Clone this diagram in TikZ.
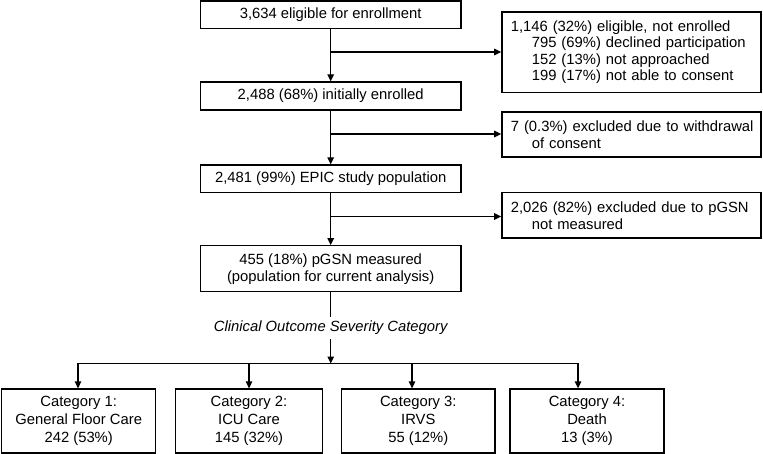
\documentclass[tikz,border=0pt]{standalone}
\usepackage{fontspec}
\setmainfont{Liberation Sans}
\usetikzlibrary{arrows.meta}
\newcommand\diagfont{\fontsize{14.8}{17}\selectfont}
\newcommand\sideindent{\hspace*{21pt}}
\begin{document}
\begin{tikzpicture}[x=1pt,y=-1pt,line width=1.3pt,
  mainbox/.style={draw, minimum width=260.5pt, inner sep=0pt, align=center, font=\diagfont},
  sidebox/.style={draw, text width=241pt, inner xsep=9pt, inner ysep=0pt, align=left, font=\diagfont},
  catbox/.style={draw, minimum height=64pt, inner sep=0pt, align=center, font=\fontsize{14.8}{17.8}\selectfont},
  arr/.style={-{Triangle[length=7pt,width=6.5pt]}}]
\useasboundingbox (0,0) rectangle (763,454);
% main column
\node[mainbox, minimum height=27.5pt] (n1) at (330.7,14.75) {3,634 eligible for enrollment};
\node[mainbox, minimum height=28pt] (n2) at (330.7,96) {2,488 (68\%) initially enrolled};
\node[mainbox, minimum height=27.5pt] (n3) at (330.7,178.75) {2,481 (99\%) EPIC study population};
\node[mainbox, minimum height=46pt] (n4) at (330.7,268.7) {455 (18\%) pGSN measured\\(population for current analysis)};
% side boxes
\node[sidebox, minimum height=80.5pt, font=\fontsize{14.8}{16.4}\selectfont] (r1) at (631.35,52.25)
  {\mbox{1,146 (32\%) eligible, not enrolled}\\\mbox{\sideindent 795 (69\%) declined participation}\\\mbox{\sideindent 152 (13\%) not approached}\\\mbox{\sideindent 199 (17\%) not able to consent}};
\node[sidebox, minimum height=45pt] (r2) at (631.35,134.5)
  {\mbox{7 (0.3\%) excluded due to withdrawal}\\\mbox{\sideindent of consent}};
\node[sidebox, minimum height=45.5pt] (r3) at (631.35,215.25)
  {\mbox{2,026 (82\%) excluded due to pGSN}\\\mbox{\sideindent not measured}};
% label
\node[font=\diagfont\itshape, inner sep=0pt] (lab) at (330.7,328) {Clinical Outcome Severity Category};
% categories
\node[catbox, minimum width=154pt] (c1) at (78.7,421) {Category 1:\\General Floor Care\\242 (53\%)};
\node[catbox, minimum width=146.6pt] (c2) at (249,421) {Category 2:\\ICU Care\\145 (32\%)};
\node[catbox, minimum width=153.3pt] (c3) at (418.3,421) {Category 3:\\IRVS\\55 (12\%)};
\node[catbox, minimum width=154pt] (c4) at (587,421) {Category 4:\\Death\\13 (3\%)};
% connectors
\coordinate (b1) at (330.7,52);
\coordinate (b2) at (330.7,134);
\coordinate (b3) at (330.7,216.5);
\draw[arr] (n1) -- (n2);
\draw[arr] (n2) -- (n3);
\draw[arr] (n3) -- (n4);
\draw[arr] (b1) -- (b1 -| r1.west);
\draw[arr] (b2) -- (b2 -| r2.west);
\draw[arr] (b3) -- (b3 -| r3.west);
\coordinate (s1) at (330.7,316.7);
\coordinate (s2) at (330.7,339);
\coordinate (hub) at (330.7,363.5);
\draw (n4) -- (s1);
\draw[arr] (s2) -- (hub);
\coordinate (h1) at (78,363.5);
\coordinate (h2) at (249,363.5);
\coordinate (h3) at (412,363.5);
\coordinate (h4) at (578,363.5);
\draw[line cap=rect] (h1) -- (h4);
\draw[arr] (h1) -- (h1 |- c1.north);
\draw[arr] (h2) -- (h2 |- c2.north);
\draw[arr] (h3) -- (h3 |- c3.north);
\draw[arr] (h4) -- (h4 |- c4.north);
\end{tikzpicture}
\end{document}
